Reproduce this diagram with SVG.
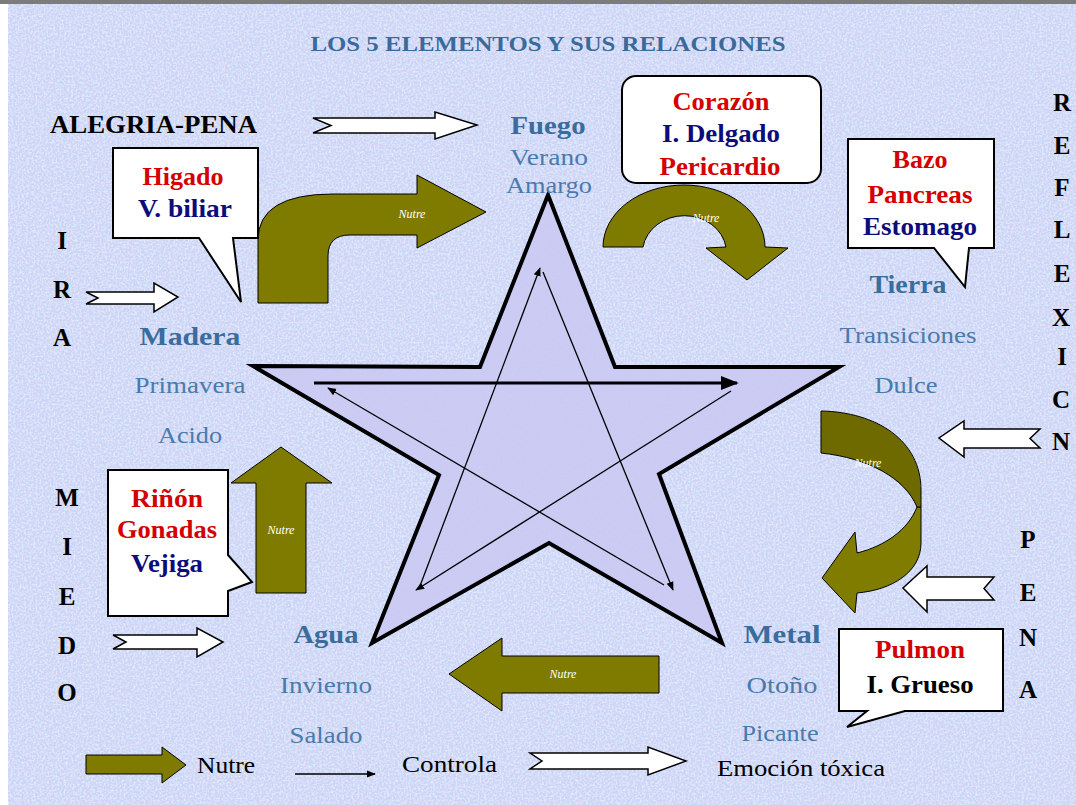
<svg xmlns="http://www.w3.org/2000/svg" width="1076" height="805" viewBox="0 0 1076 805">
<defs>
<filter id="pink" x="0" y="0" width="100%" height="100%">
<feTurbulence type="fractalNoise" baseFrequency="0.5" numOctaves="2" seed="4"/>
<feColorMatrix type="matrix" values="0 0 0 0 0.92  0 0 0 0 0.78  0 0 0 0 0.92  3 0 0 0 -1.35"/>
</filter>
<filter id="cyan" x="0" y="0" width="100%" height="100%">
<feTurbulence type="fractalNoise" baseFrequency="0.45" numOctaves="2" seed="11"/>
<feColorMatrix type="matrix" values="0 0 0 0 0.68  0 0 0 0 0.87  0 0 0 0 0.99  3 0 0 0 -1.35"/>
</filter>
<marker id="ah" viewBox="0 0 10 10" refX="9" refY="5" markerWidth="9" markerHeight="9" markerUnits="userSpaceOnUse" orient="auto">
<path d="M0,1 L10,5 L0,9 Z" fill="#000"/>
</marker>
<marker id="ahb" viewBox="0 0 10 10" refX="9" refY="5" markerWidth="6" markerHeight="6" orient="auto">
<path d="M0,1 L10,5 L0,9 Z" fill="#000"/>
</marker>
</defs>
<style>
.el{font-family:"Liberation Serif",serif;font-weight:bold;font-size:25px;fill:#3a6c9c;text-anchor:middle}
.sub{font-family:"Liberation Serif",serif;font-size:23px;fill:#4a7aac;text-anchor:middle}
.box{fill:#fff;stroke:#000;stroke-width:2}
.red{font-family:"Liberation Serif",serif;font-weight:bold;font-size:25px;fill:#d40000;text-anchor:middle}
.navy{font-family:"Liberation Serif",serif;font-weight:bold;font-size:25px;fill:#0c0c7c;text-anchor:middle}
.blk{font-family:"Liberation Serif",serif;font-weight:bold;font-size:25px;fill:#000;text-anchor:middle}
.emo{font-family:"Liberation Serif",serif;font-weight:bold;font-size:25px;fill:#000;text-anchor:middle}
.olive{fill:#7f7a00;stroke:#000;stroke-width:1}
.nut{font-family:"Liberation Serif",serif;font-style:italic;font-size:12px;fill:#fff;text-anchor:middle}
.warr{fill:#fff;stroke:#000;stroke-width:1.5}
.leg{font-family:"Liberation Serif",serif;font-size:24px;fill:#000}
.ctl{stroke:#000;stroke-width:1.3;fill:none}
</style>
<rect x="0" y="0" width="1076" height="805" fill="#cbd3f6"/>
<rect x="0" y="0" width="1076" height="805" filter="url(#pink)" opacity="0.9"/>
<rect x="0" y="0" width="1076" height="805" filter="url(#cyan)" opacity="0.9"/>
<rect x="0" y="0" width="1076" height="4" fill="#7c7c7c"/>
<rect x="0" y="4" width="8" height="801" fill="#ffffff"/>

<text x="548" y="51" font-family="Liberation Serif, serif" font-weight="bold" font-size="21" fill="#3a6a9a" text-anchor="middle" textLength="475" lengthAdjust="spacingAndGlyphs">LOS 5 ELEMENTOS Y SUS RELACIONES</text>

<g id="star">
<polygon points="548,195 615,367 839,367 659,474 722,643 549,543 372,643 439,475 253,366 480,367" fill="#cac9f3" fill-opacity="0.9" stroke="#000" stroke-width="4" stroke-linejoin="miter"/>
</g>

<g id="connectors">
<line x1="314" y1="383" x2="737" y2="383" stroke="#000" stroke-width="3" marker-end="url(#ahb)"/>
<line class="ctl" x1="731" y1="391" x2="416" y2="590" marker-end="url(#ah)"/>
<line class="ctl" x1="420" y1="586" x2="540" y2="268" marker-end="url(#ah)"/>
<line class="ctl" x1="543" y1="272" x2="673" y2="590" marker-end="url(#ah)"/>
<line class="ctl" x1="664" y1="585" x2="328" y2="388" marker-end="url(#ah)"/>

<g id="nutre-madera-fuego">
<path class="olive" d="M258,303 L258,240 Q258,194 333,194 L417,194 L417,175 L486,212 L417,248 L417,235 L350,235 Q328,235 328,256 L328,303 Z"/>
<text class="nut" x="412" y="218" font-size="15">Nutre</text>
</g>
<g id="nutre-fuego-tierra">
<path class="olive" d="M603,247 A81,62 0 0 1 765,247 L788,248 L747,280 L706,248 L726,247 A42,37 0 0 0 643,247 Z"/>
<text class="nut" x="706" y="222" font-size="10">Nutre</text>
</g>
<g id="nutre-tierra-metal">
<path d="M917,507 L921,507 L921,543 C921,572 892,590 857,593 L855,613 L822,578 L855,532 L857,553 C885,546 908,530 917,507 Z" fill="#807c00" stroke="#000" stroke-width="1"/>
<path d="M821,411 C876,412 921,440 921,490 L921,507 L917,507 C905,478 868,458 821,453 Z" fill="#6e6a00" stroke="#000" stroke-width="1"/>
<text class="nut" x="868" y="467" font-size="10">Nutre</text>
</g>
<g id="nutre-metal-agua">
<path class="olive" d="M659,656 L502,656 L502,638 L449,674 L502,711 L502,693 L659,693 Z"/>
<text class="nut" x="563" y="678" font-size="10">Nutre</text>
</g>
<g id="nutre-agua-madera">
<path class="olive" d="M256,593 L256,483 L231,483 L281,447 L332,483 L306,483 L306,593 Z"/>
<text class="nut" x="281" y="534" font-size="10">Nutre</text>
</g>
</g>

<g id="emotions">
<path class="warr" d="M313,118 L435,118 L435,112 L477,125 L435,139 L435,133 L313,133 L331,125.5 Z"/>
<path class="warr" d="M86,292 L154,292 L154,283 L178,297 L154,312 L154,304 L86,304 L98,298 Z"/>
<path class="warr" d="M113,635 L197,635 L197,628 L223,642 L197,657 L197,649 L113,649 L126,642 Z"/>
<path class="warr" d="M1040,429 L964,429 L964,421 L939,438 L964,457 L964,448 L1040,448 L1030,438.5 Z"/>
<path class="warr" d="M994,577 L927,577 L927,566 L903,588 L927,612 L927,600 L994,600 L984,588.5 Z"/>
<text x="50" y="133" font-family="Liberation Serif, serif" font-weight="bold" font-size="25" fill="#000" textLength="207" lengthAdjust="spacingAndGlyphs">ALEGRIA-PENA</text>
<text class="emo" x="62" y="249">I</text>
<text class="emo" x="62" y="298">R</text>
<text class="emo" x="62" y="346">A</text>
<text class="emo" x="67" y="506">M</text>
<text class="emo" x="67" y="555">I</text>
<text class="emo" x="67" y="605">E</text>
<text class="emo" x="67" y="654">D</text>
<text class="emo" x="67" y="701">O</text>
<text class="emo" x="1062" y="111" text-anchor="start">R</text>
<text class="emo" x="1062" y="154" text-anchor="start">E</text>
<text class="emo" x="1062" y="196" text-anchor="start">F</text>
<text class="emo" x="1062" y="238" text-anchor="start">L</text>
<text class="emo" x="1062" y="282" text-anchor="start">E</text>
<text class="emo" x="1061" y="326" text-anchor="start">X</text>
<text class="emo" x="1062" y="365" text-anchor="start">I</text>
<text class="emo" x="1061" y="408" text-anchor="start">C</text>
<text class="emo" x="1061" y="450" text-anchor="start">N</text>
<text class="emo" x="1028" y="548">P</text>
<text class="emo" x="1028" y="601">E</text>
<text class="emo" x="1028" y="646">N</text>
<text class="emo" x="1028" y="698">A</text>
</g>

<g id="fuego">
<text class="el" x="548" y="134" textLength="75" lengthAdjust="spacingAndGlyphs">Fuego</text>
<text class="sub" x="549" y="165" textLength="78" lengthAdjust="spacingAndGlyphs">Verano</text>
<text class="sub" x="549" y="193" textLength="86" lengthAdjust="spacingAndGlyphs">Amargo</text>
</g>
<g id="madera">
<text class="el" x="190" y="345" textLength="101" lengthAdjust="spacingAndGlyphs">Madera</text>
<text class="sub" x="190" y="393" textLength="111" lengthAdjust="spacingAndGlyphs">Primavera</text>
<text class="sub" x="190" y="443" textLength="64" lengthAdjust="spacingAndGlyphs">Acido</text>
</g>
<g id="tierra">
<text class="el" x="908" y="293" textLength="77" lengthAdjust="spacingAndGlyphs">Tierra</text>
<text class="sub" x="908" y="343" textLength="137" lengthAdjust="spacingAndGlyphs">Transiciones</text>
<text class="sub" x="906" y="393" textLength="63" lengthAdjust="spacingAndGlyphs">Dulce</text>
</g>
<g id="agua">
<text class="el" x="326" y="643" textLength="65" lengthAdjust="spacingAndGlyphs">Agua</text>
<text class="sub" x="326" y="693" textLength="92" lengthAdjust="spacingAndGlyphs">Invierno</text>
<text class="sub" x="326" y="743" textLength="73" lengthAdjust="spacingAndGlyphs">Salado</text>
</g>
<g id="metal">
<text class="el" x="782" y="643" textLength="77" lengthAdjust="spacingAndGlyphs">Metal</text>
<text class="sub" x="782" y="693" textLength="71" lengthAdjust="spacingAndGlyphs">Otoño</text>
<text class="sub" x="780" y="741" textLength="77" lengthAdjust="spacingAndGlyphs">Picante</text>
</g>

<g id="callout-higado">
<path class="box" d="M113,148 L258,148 L258,238 L233,238 L241,302 L199,238 L113,238 Z"/>
<text class="red" x="183" y="185" textLength="81" lengthAdjust="spacingAndGlyphs">Higado</text>
<text class="navy" x="185" y="217" textLength="94" lengthAdjust="spacingAndGlyphs">V. biliar</text>
</g>
<g id="callout-corazon">
<rect class="box" x="622" y="76" width="199" height="107" rx="14"/>
<text class="red" x="721" y="110" textLength="97" lengthAdjust="spacingAndGlyphs">Corazón</text>
<text class="navy" x="721" y="142" textLength="118" lengthAdjust="spacingAndGlyphs">I. Delgado</text>
<text class="red" x="720" y="175" textLength="121" lengthAdjust="spacingAndGlyphs">Pericardio</text>
</g>
<g id="callout-bazo">
<path class="box" d="M848,139 L994,139 L994,248 L969,248 L965,287 L934,248 L848,248 Z"/>
<text class="red" x="920" y="168" textLength="55" lengthAdjust="spacingAndGlyphs">Bazo</text>
<text class="red" x="920" y="203" textLength="105" lengthAdjust="spacingAndGlyphs">Pancreas</text>
<text class="navy" x="920" y="235" textLength="114" lengthAdjust="spacingAndGlyphs">Estomago</text>
</g>
<g id="callout-rinon">
<path class="box" d="M108,470 L228,470 L228,555 L252,582 L228,591 L228,616 L108,616 Z"/>
<text class="red" x="167" y="507" textLength="72" lengthAdjust="spacingAndGlyphs">Riñón</text>
<text class="red" x="167" y="538" textLength="100" lengthAdjust="spacingAndGlyphs">Gonadas</text>
<text class="navy" x="167" y="572" textLength="72" lengthAdjust="spacingAndGlyphs">Vejiga</text>
</g>
<g id="callout-pulmon">
<path class="box" d="M839,629 L1003,629 L1003,711 L905,711 L847,727 L867,711 L839,711 Z"/>
<text class="red" x="920" y="658" textLength="90" lengthAdjust="spacingAndGlyphs">Pulmon</text>
<text class="blk" x="920" y="693" textLength="107" lengthAdjust="spacingAndGlyphs">I. Grueso</text>
</g>

<g id="legend">
<path class="olive" d="M86,755 L162,755 L162,747 L186,765 L162,783 L162,774 L86,774 Z"/>
<text class="leg" x="197" y="773" textLength="58" lengthAdjust="spacingAndGlyphs">Nutre</text>
<line x1="295" y1="774" x2="375" y2="774" stroke="#000" stroke-width="1.5" marker-end="url(#ah)"/>
<text class="leg" x="402" y="772" textLength="95" lengthAdjust="spacingAndGlyphs">Controla</text>
<path class="warr" d="M530,753 L648,753 L648,747 L686,761 L648,775 L648,769 L530,769 L542,761 Z"/>
<text class="leg" x="717" y="776" textLength="168" lengthAdjust="spacingAndGlyphs">Emoción tóxica</text>
</g>
</svg>
